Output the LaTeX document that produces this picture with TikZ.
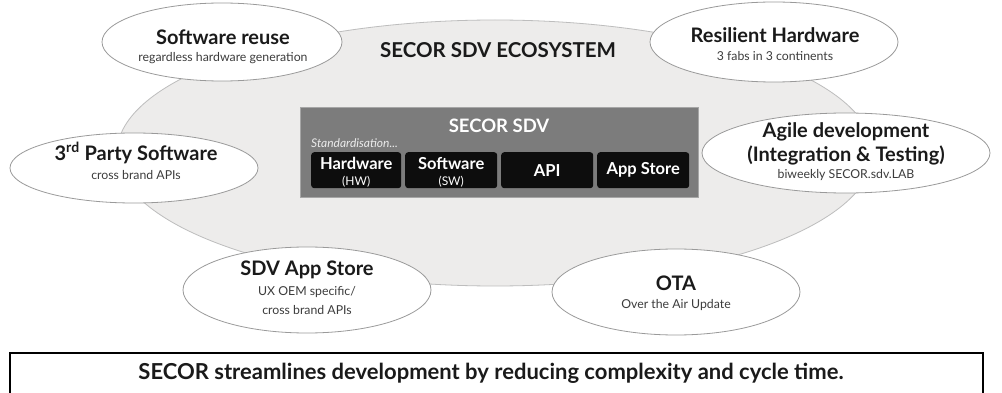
\documentclass[tikz,border=0pt]{standalone}
\usepackage{fontspec}
\setmainfont{Lato}
\usetikzlibrary{shapes.geometric}
\definecolor{ecofill}{HTML}{EDECEB}
\definecolor{ecoline}{HTML}{BDBDBD}
\definecolor{boxgrey}{HTML}{7C7C7C}
\definecolor{ellline}{HTML}{9A9A9A}
\definecolor{txt}{HTML}{1A1A1A}
\tikzset{
  x=1pt, y=-1pt,
  bubble/.style={ellipse, draw=ellline, line width=0.8pt, fill=white, inner sep=0pt},
  ttl/.style={font=\fontsize{20}{22}\selectfont\bfseries, text=txt, inner sep=0pt, align=center},
  sub/.style={font=\fontsize{12.3}{15}\selectfont, text=txt!85, inner sep=0pt, align=center},
  blk/.style={draw=none, fill=black!95, rounded corners=3pt, minimum height=36pt, minimum width=91pt, inner sep=0pt, anchor=north west},
  blkt/.style={font=\fontsize{16.5}{18}\selectfont\bfseries, text=white, inner sep=0pt, align=center},
  blks/.style={font=\fontsize{12}{13}\selectfont, text=white, inner sep=0pt}
}
\begin{document}
\begin{tikzpicture}
\useasboundingbox (0,0) rectangle (1002,393);
\fill[white] (0,0) rectangle (1002,393);
% ecosystem ellipse
\node[ellipse, draw=ecoline, fill=ecofill, line width=0.8pt, minimum width=756pt, minimum height=266pt, inner sep=0pt] (eco) at (495,153) {};
\node[font=\fontsize{20.5}{22}\selectfont\bfseries, text=txt, inner sep=0pt] (ecot) at (498,50) {SECOR SDV ECOSYSTEM};
% central grey box
\node[draw=black!35, fill=boxgrey, minimum width=398pt, minimum height=90pt, inner sep=0pt, anchor=north west] (sdv) at (300,107) {};
\node[font=\fontsize{18.5}{20}\selectfont\bfseries, text=white, inner sep=0pt] (sdvt) at (499,126) {SECOR SDV};
\node[font=\fontsize{12}{13}\selectfont\itshape, text=white!92!black, inner sep=0pt, anchor=west] (std) at (311,143) {Standardisation...};
\node[blk, minimum width=90pt] (hw) at (311,152) {};
\node[blk, minimum width=92pt] (sw) at (405,152) {};
\node[blk, minimum width=92pt] (api) at (501,152) {};
\node[blk, minimum width=92pt] (app) at (597,152) {};
\node[blkt] at ([yshift=7pt]hw.center) {Hardware};
\node[blks] at ([yshift=-12pt]hw.center) {(HW)};
\node[blkt] at ([yshift=7pt]sw.center) {Software};
\node[blks] at ([yshift=-12pt]sw.center) {(SW)};
\node[blkt] at (api.center) {API};
\node[blkt] at (app.center) {App Store};
% bubbles
\node[bubble, minimum width=240pt, minimum height=78pt] (reuse) at (222,42) {};
\node[ttl] at (223,37) {Software reuse};
\node[sub] at (223,58) {regardless hardware generation};
\node[bubble, minimum width=248pt, minimum height=80pt] (res) at (774,42) {};
\node[ttl] at (775,35) {Resilient Hardware};
\node[sub] at (775,56) {3 fabs in 3 continents};
\node[bubble, minimum width=248pt, minimum height=70pt] (third) at (134,168) {};
\node[ttl] at (136,153) {3\textsuperscript{rd} Party Software};
\node[sub] at (136,175) {cross brand APIs};
\node[bubble, minimum width=288pt, minimum height=80pt] (agile) at (846,153) {};
\node[ttl] at (846,132) {Agile development};
\node[ttl] at (846,155) {(Integration \& Testing)};
\node[sub] at (846,175) {biweekly SECOR.sdv.LAB};
\node[bubble, minimum width=248pt, minimum height=86pt] (store) at (307,290) {};
\node[ttl] at (307,270) {SDV App Store};
\node[sub] at (307,292) {UX OEM specific/};
\node[sub] at (307,310) {cross brand APIs};
\node[bubble, minimum width=248pt, minimum height=86pt] (ota) at (676,292) {};
\node[ttl] at (676,283) {OTA};
\node[sub] at (676,305) {Over the Air Update};
% bottom statement
\draw[line width=2.5pt, black] (10,400) -- (10,353) -- (983,353) -- (983,400);
\node[font=\fontsize{22}{24}\selectfont\bfseries, text=txt, inner sep=0pt] (stmt) at (491,373) {SECOR streamlines development by reducing complexity and cycle time.};
\end{tikzpicture}
\end{document}
